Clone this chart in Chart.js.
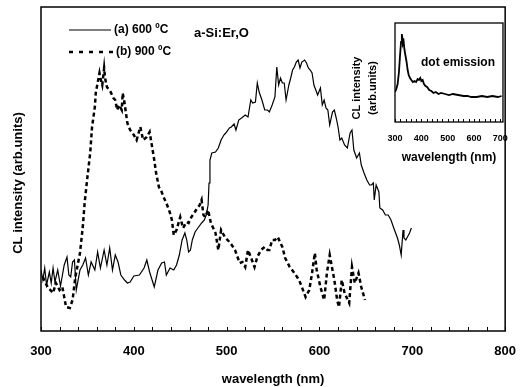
<!DOCTYPE html>
<html><head><meta charset="utf-8">
<script src="https://cdn.jsdelivr.net/npm/chart.js@4.4.0/dist/chart.umd.min.js"></script>
<style>
html,body{margin:0;padding:0;background:#fff;}
#wrap{position:relative;width:521px;height:387px;overflow:hidden;}
#main{position:absolute;left:0;top:0;width:521px;height:387px;}
#inset{position:absolute;left:345px;top:18px;width:166px;height:147px;}
</style></head><body>
<div id="wrap"><canvas id="main" width="521" height="387"></canvas><canvas id="inset" width="166" height="147"></canvas></div>
<script>
// ---- data ----
const xTicksMain = [300, 400, 500, 600, 700, 800];
const xTicksInset = [300, 400, 500, 600, 700];
const seriesNames = ['(a) 600 \u00baC', '(b) 900 \u00baC'];
const sampleLabel = 'a-Si:Er,O';
const insetLabel = 'dot emission';

const wlA = [300,302,304,306,309,311,313,315,318,321,325,328,330,332,334,336,338,342,345,348,351,354,358,361,364,368,371,374,377,380,383,386,390,393,396,400,406,411,414,417,422,426,430,433,435,439,443,446,449,452,455,457,459,461,463,466,469,473,476,478,480,481,482,484,488,491,494,497,499,503,505,508,510,513,516,520,523,526,528,531,533,535,538,541,544,546,549,552,554,556,558,560,562,564,567,569,571,573,575,577,579,581,584,586,588,590,592,594,596,598,601,603,605,607,609,611,614,616,618,620,622,624,627,630,633,635,637,640,643,645,648,651,654,656,658,659,661,664,665,668,671,674,677,680,684,686,688,690,691,693,697,699];
const valA = [61,51,63,46,59,48,63,49,61,45,66,74,56,54,69,71,41,61,66,73,56,69,61,79,63,81,66,83,61,76,69,56,51,48,49,55,56,63,71,59,44,61,68,69,56,63,61,66,76,91,98,91,79,81,91,99,103,108,111,116,126,148,171,178,179,183,191,196,198,203,204,207,201,211,213,216,214,231,228,229,248,239,231,221,221,219,226,234,264,246,253,248,248,231,246,253,261,264,269,271,263,269,271,268,263,261,258,246,241,236,243,226,231,223,221,206,219,221,213,204,191,193,186,183,198,201,181,173,178,166,158,151,146,146,148,131,146,139,123,121,116,116,111,103,93,86,76,101,93,91,98,103];

const wlB = [302,307,313,316,320,323,327,331,334,337,342,345,347,350,353,355,358,359,361,363,364,366,368,369,371,375,378,380,382,384,387,388,390,393,396,400,403,407,410,414,417,419,422,424,427,430,432,435,439,441,443,446,450,453,457,459,462,465,467,471,473,475,477,480,483,488,491,494,498,504,509,514,517,520,523,526,530,533,537,541,544,546,549,552,555,560,563,568,573,578,581,585,589,592,595,597,601,605,608,611,616,619,621,624,627,632,635,638,642,645,649];
const valB = [54,44,38,48,41,44,24,23,31,54,78,104,128,154,178,204,224,238,248,258,253,246,263,253,244,239,233,231,221,226,221,238,228,208,201,196,191,204,191,194,199,188,171,158,144,139,134,128,118,111,96,101,114,103,109,108,114,118,121,126,131,116,114,121,108,98,81,101,94,88,81,68,69,64,81,74,64,74,81,84,81,81,91,91,94,84,73,64,58,51,44,34,41,58,78,61,44,31,58,76,51,31,24,51,38,28,64,48,58,44,31];

const wlInset = [300,305,310,315,319,323,326,328,330,333,336,340,344,348,352,357,362,368,374,380,386,391,396,400,405,410,416,422,430,438,446,455,465,475,490,505,520,540,560,575,590,610,630,650,670,690,705];
const valInset = [30,33,38,50,66,80,88,84,78,80,72,66,60,52,47,44,42,40,41,40,43,42,44,41,42,38,36,35,32,31,29,30,28,29,28,27,28,27,26,26,25,25,26,25,26,25,26];

const FONT = "'Liberation Sans', Arial, sans-serif";
const pts = (xs, ys) => xs.map((x, i) => ({x, y: ys[i]}));

// ---- plugins ----
const framePlugin = {
  id: 'frame',
  afterDraw(chart, args, opts) {
    const {ctx, chartArea: a} = chart;
    const xs = chart.scales.x;
    ctx.save();
    ctx.strokeStyle = '#000';
    ctx.lineWidth = opts.lw || 1.5;
    ctx.strokeRect(a.left, a.top, a.right - a.left, a.bottom - a.top);
    ctx.lineWidth = 1;
    ctx.beginPath();
    for (let v = opts.min; v <= opts.max; v += opts.step) {
      const px = Math.round(xs.getPixelForValue(v)) + 0.5;
      ctx.moveTo(px, a.bottom);
      ctx.lineTo(px, a.bottom - opts.len);
    }
    ctx.stroke();
    ctx.restore();
  }
};

const mainText = {
  id: 'mainText',
  afterDraw(chart) {
    const ctx = chart.ctx;
    ctx.save();
    ctx.fillStyle = '#000';
    ctx.strokeStyle = '#000';
    ctx.font = 'bold 13px ' + FONT;
    ctx.textAlign = 'center';
    ctx.textBaseline = 'middle';
    ctx.translate(18, 183);
    ctx.rotate(-Math.PI / 2);
    ctx.fillText('CL intensity (arb.units)', 0, 0);
    ctx.restore();
    ctx.save();
    ctx.lineWidth = 1.2;
    ctx.beginPath(); ctx.moveTo(69, 30); ctx.lineTo(111, 30); ctx.stroke();
    ctx.lineWidth = 2.5;
    ctx.setLineDash([4, 6]);
    ctx.beginPath(); ctx.moveTo(69, 52); ctx.lineTo(115, 52); ctx.stroke();
    ctx.setLineDash([]);
    ctx.font = 'bold 12px ' + FONT;
    ctx.textAlign = 'left';
    ctx.textBaseline = 'middle';
    ctx.fillText(seriesNames[0], 114, 30);
    ctx.fillText(seriesNames[1], 116, 52);
    ctx.font = 'bold 13px ' + FONT;
    ctx.fillText(sampleLabel, 194, 33);
    ctx.restore();
  }
};

const insetText = {
  id: 'insetText',
  afterDraw(chart) {
    const ctx = chart.ctx;
    ctx.save();
    ctx.fillStyle = '#000';
    ctx.font = 'bold 12px ' + FONT;
    ctx.textAlign = 'center';
    ctx.textBaseline = 'middle';
    ctx.fillText(insetLabel, 113, 45);
    ctx.font = 'bold 11px ' + FONT;
    ctx.save();
    ctx.translate(12, 70); ctx.rotate(-Math.PI / 2);
    ctx.fillText('CL intensity', 0, 0);
    ctx.restore();
    ctx.save();
    ctx.translate(28, 70); ctx.rotate(-Math.PI / 2);
    ctx.fillText('(arb.units)', 0, 0);
    ctx.restore();
    ctx.restore();
  }
};

// ---- main chart ----
new Chart(document.getElementById('main'), {
  type: 'line',
  data: {
    datasets: [
      {label: seriesNames[0], data: pts(wlA, valA), borderColor: '#000', borderWidth: 1.2, pointRadius: 0, tension: 0, fill: false},
      {label: seriesNames[1], data: pts(wlB, valB), borderColor: '#000', borderWidth: 2.5, borderDash: [4, 3], pointRadius: 0, tension: 0, fill: false}
    ]
  },
  options: {
    responsive: false, animation: false, devicePixelRatio: 1,
    layout: {padding: {left: 0, right: 11, top: 7, bottom: 0}},
    plugins: {legend: {display: false}, tooltip: {enabled: false},
      frame: {min: 300, max: 800, step: 20, len: 4, lw: 1.5}},
    scales: {
      x: {type: 'linear', min: 300, max: 800,
        afterBuildTicks: s => { s.ticks = xTicksMain.map(v => ({value: v})); },
        afterFit: s => { s.height = 56; },
        grid: {display: false}, border: {display: false},
        ticks: {color: '#000', font: {family: FONT, size: 13, weight: 'bold'}, padding: 5, maxRotation: 0},
        title: {display: true, text: 'wavelength (nm)', color: '#000', font: {family: FONT, size: 13, weight: 'bold'}, padding: {top: 6, bottom: 0}}
      },
      y: {type: 'linear', min: 0, max: 324,
        afterFit: s => { s.width = 41; },
        grid: {display: false}, border: {display: false},
        ticks: {display: false}
      }
    }
  },
  plugins: [framePlugin, mainText]
});

// ---- inset chart ----
new Chart(document.getElementById('inset'), {
  type: 'line',
  data: {
    datasets: [
      {label: insetLabel, data: pts(wlInset, valInset), borderColor: '#000', borderWidth: 1.8, pointRadius: 0, tension: 0, fill: false}
    ]
  },
  options: {
    responsive: false, animation: false, devicePixelRatio: 1,
    layout: {padding: {left: 0, right: 6, top: 5, bottom: 0}},
    plugins: {legend: {display: false}, tooltip: {enabled: false},
      frame: {min: 300, max: 700, step: 20, len: 3, lw: 1.3}},
    scales: {
      x: {type: 'linear', min: 300, max: 710,
        afterBuildTicks: s => { s.ticks = xTicksInset.map(v => ({value: v})); },
        afterFit: s => { s.height = 43; },
        grid: {display: false}, border: {display: false},
        ticks: {color: '#000', font: {family: FONT, size: 9, weight: 'bold'}, padding: 3, maxRotation: 0},
        title: {display: true, text: 'wavelength (nm)', color: '#000', font: {family: FONT, size: 12, weight: 'bold'}, padding: {top: 6, bottom: 0}}
      },
      y: {type: 'linear', min: 0, max: 99,
        afterFit: s => { s.width = 50; },
        grid: {display: false}, border: {display: false},
        ticks: {display: false}
      }
    }
  },
  plugins: [framePlugin, insetText]
});
</script>
</body></html>
